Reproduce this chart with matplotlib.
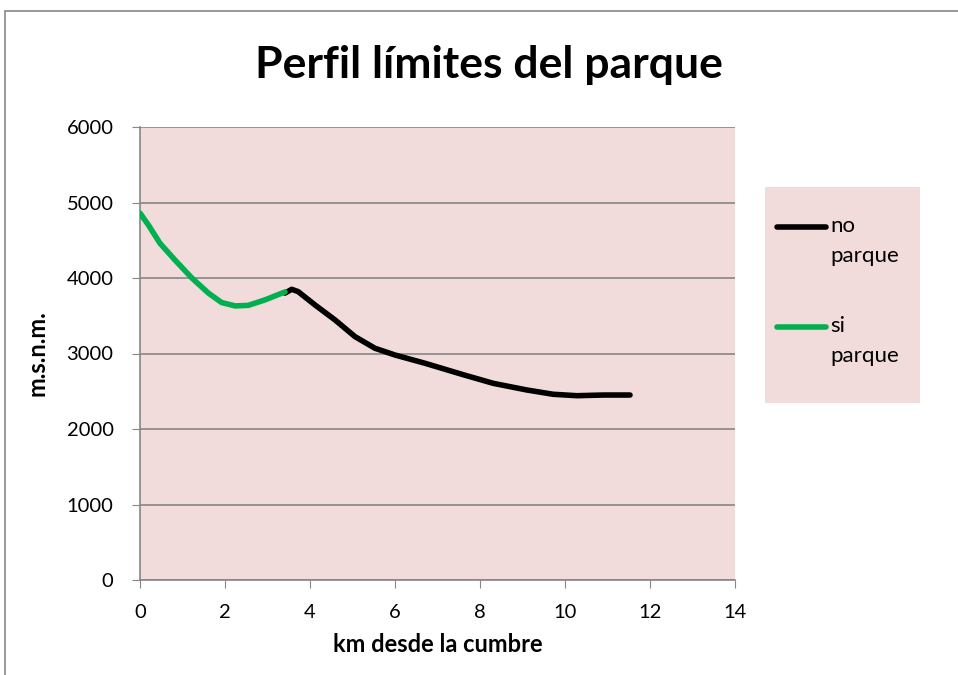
import numpy as np
import matplotlib.pyplot as plt
from matplotlib.patches import Rectangle
from matplotlib.lines import Line2D

# datos
km_si = [0.0, 0.20, 0.47, 0.82, 1.22, 1.61, 1.92, 2.24, 2.55, 2.94, 3.41]
alt_si = [4860, 4700, 4460, 4240, 4000, 3800, 3675, 3630, 3638, 3710, 3815]

km_no = [3.41, 3.57, 3.72, 4.12, 4.59, 5.06, 5.53, 6.0, 6.71, 7.6, 8.31,
         9.10, 9.72, 10.28, 10.90, 11.53]
alt_no = [3800, 3850, 3820, 3642, 3444, 3223, 3069, 2980, 2870, 2720, 2605,
          2517, 2460, 2441, 2450, 2450]

series = ['no\nparque', 'si\nparque']
colores = ['black', '#00B050']

bg = '#F2DCDB'
gris = '#868686'
plt.rcParams['font.family'] = ['Lato', 'DejaVu Sans']

fig = plt.figure(figsize=(9.58, 6.75), dpi=100)
ax = fig.add_axes([140/958, 1 - 580/675, 595/958, 453/675])
ax.set_facecolor(bg)

# marco exterior del grafico
fig.patches.append(Rectangle((5/958, -0.1), 1.2, 1 - 11/675 + 0.1,
                             transform=fig.transFigure, fill=False,
                             edgecolor=gris, lw=1.2))

ax.plot(km_no, alt_no, color=colores[0], lw=4, solid_capstyle='round',
        solid_joinstyle='round', zorder=3)
ax.plot(km_si, alt_si, color=colores[1], lw=4, solid_capstyle='round',
        solid_joinstyle='round', zorder=3)

ax.set_xlim(0, 14)
ax.set_ylim(0, 6000)
ax.set_xticks(np.arange(0, 15, 2))
ax.set_yticks(np.arange(0, 7000, 1000))
ax.grid(axis='y', color=gris, lw=1.2)
ax.set_axisbelow(True)
for s in ['top', 'right']:
    ax.spines[s].set_visible(False)
for s in ['left', 'bottom']:
    ax.spines[s].set_color(gris)
    ax.spines[s].set_linewidth(1.2)
ax.tick_params(direction='out', length=6, color=gris, labelsize=14.5)
ax.tick_params(axis='x', pad=11)
ax.tick_params(axis='y', pad=13)

ax.set_xlabel('km desde la cumbre', fontsize=17, fontweight='bold', labelpad=9)
ax.set_ylabel('m.s.n.m.', fontsize=17, fontweight='bold', labelpad=13)
fig.text(489/958, 1 - 65/675, 'Perfil límites del parque', fontsize=32,
         fontweight='bold', ha='center', va='center')

# leyenda dibujada a mano (cuadro rosa a la derecha)
lax = fig.add_axes([765/958, 1 - 403/675, 155/958, 216/675])
lax.set_xlim(765, 920)
lax.set_ylim(403, 187)
lax.axis('off')
lax.add_patch(Rectangle((765, 187), 155, 216, color=bg, zorder=0))
for nombre, c, y0 in zip(series, colores, [227, 327]):
    lax.add_line(Line2D([777, 826], [y0, y0], color=c, lw=4,
                        solid_capstyle='round'))
    lax.text(830, y0 - 11, nombre, fontsize=16, va='top', ha='left',
             linespacing=1.6)

fig.savefig('out.png', dpi=100)
